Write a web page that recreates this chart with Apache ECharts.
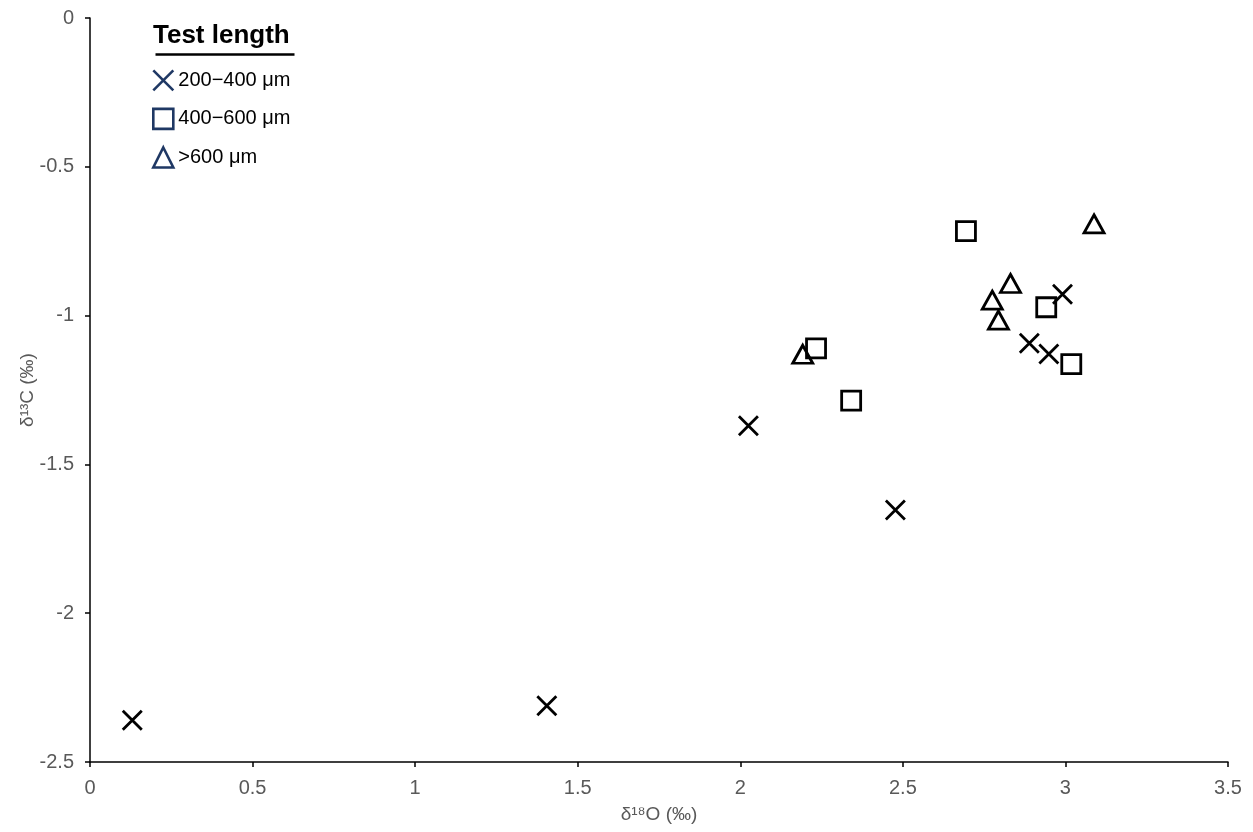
<!DOCTYPE html>
<html>
<head>
<meta charset="utf-8">
<script src="https://cdn.jsdelivr.net/npm/echarts@6/dist/echarts.min.js"></script>
<style>
html,body{margin:0;padding:0;background:#fff;}
#chart{width:1253px;height:832px;}
</style>
</head>
<body>
<div id="chart"></div>
<script>
// Data
const seriesNames = ['200\u2212400 \u03bcm', '400\u2212600 \u03bcm', '>600 \u03bcm'];
const x200 = [0.130, 1.405, 2.025, 2.477, 2.889, 2.949, 2.991];
const y200 = [-2.360, -2.311, -1.370, -1.653, -1.093, -1.129, -0.928];
const x400 = [2.694, 2.233, 2.341, 2.941, 3.018];
const y400 = [-0.716, -1.110, -1.286, -0.972, -1.163];
const x600 = [3.088, 2.831, 2.775, 2.794, 2.192];
const y600 = [-0.692, -0.892, -0.948, -1.015, -1.130];
const legendTitle = 'Test length';
const xName = '\u03b4\u00b9\u2078O (\u2030)';
const yName = '\u03b4\u00b9\u00b3C (\u2030)';

const zip = (xs, ys) => xs.map((v, i) => [v, ys[i]]);
const crossPath = 'path://M0,0L20,20M20,0L0,20';
const FONT = '"Liberation Sans", Arial, sans-serif';
const legendColor = '#1F3864';

const chart = echarts.init(document.getElementById('chart'), null, {renderer: 'canvas'});
const markerStyle = {color: 'rgba(0,0,0,0)', borderColor: '#000', borderWidth: 2.8, opacity: 1};
const legendStyle = {color: 'rgba(0,0,0,0)', borderColor: legendColor, borderWidth: 2.6, opacity: 1};

chart.setOption({
  animation: false,
  backgroundColor: '#fff',
  grid: {left: 90, right: 25, top: 18, bottom: 70, containLabel: false},
  xAxis: {
    type: 'value', min: 0, max: 3.5, interval: 0.5,
    name: xName, nameLocation: 'middle', nameGap: 43,
    nameTextStyle: {fontFamily: FONT, fontSize: 19, color: '#595959'},
    axisLine: {show: true, onZero: false, lineStyle: {color: '#000', width: 1.5}},
    axisTick: {show: true, length: 5, lineStyle: {color: '#000', width: 1.5}},
    axisLabel: {fontFamily: FONT, fontSize: 20, color: '#595959', margin: 16},
    splitLine: {show: false}
  },
  yAxis: {
    type: 'value', min: -2.5, max: 0, interval: 0.5,
    name: yName, nameLocation: 'middle', nameGap: 53, nameRotate: 90,
    nameMoveOverlap: false,
    nameTextStyle: {fontFamily: FONT, fontSize: 19, color: '#595959'},
    axisLine: {show: true, onZero: false, lineStyle: {color: '#000', width: 1.5}},
    axisTick: {show: true, length: 5, lineStyle: {color: '#000', width: 1.5}},
    axisLabel: {fontFamily: FONT, fontSize: 20, color: '#595959', margin: 16},
    splitLine: {show: false}
  },
  legend: {
    orient: 'vertical', left: 152, top: 69, padding: 0,
    itemWidth: 20, itemHeight: 20, itemGap: 16,
    textStyle: {fontFamily: FONT, fontSize: 20, color: '#000'},
    selectedMode: false,
    data: [
      {name: seriesNames[0], icon: crossPath, itemStyle: legendStyle},
      {name: seriesNames[1], icon: 'rect', itemStyle: legendStyle},
      {name: seriesNames[2], icon: 'triangle', itemStyle: legendStyle}
    ]
  },
  graphic: [
    {type: 'text', left: 153, top: 23, style: {text: legendTitle, font: 'bold 26px ' + FONT, fill: '#000'}},
    {type: 'line', left: 153, top: 52, shape: {x1: 0, y1: 0, x2: 139, y2: 0}, style: {stroke: '#000', lineWidth: 2.5}}
  ],
  series: [
    {name: seriesNames[0], type: 'scatter', symbol: crossPath, symbolSize: 19,
     itemStyle: markerStyle, data: zip(x200, y200), emphasis: {disabled: true}, z: 3},
    {name: seriesNames[1], type: 'scatter', symbol: 'rect', symbolSize: 19,
     itemStyle: markerStyle, data: zip(x400, y400), emphasis: {disabled: true}, z: 2},
    {name: seriesNames[2], type: 'scatter', symbol: 'triangle', symbolSize: [20, 18],
     itemStyle: markerStyle, data: zip(x600, y600), emphasis: {disabled: true}, z: 2}
  ]
});
</script>
</body>
</html>
